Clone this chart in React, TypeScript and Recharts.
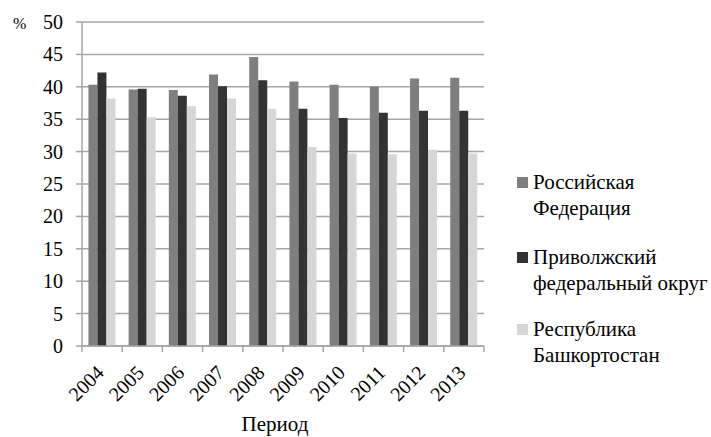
import React from 'react';
import { BarChart, Bar, XAxis, YAxis, CartesianGrid } from 'recharts';

const years = ['2004', '2005', '2006', '2007', '2008', '2009', '2010', '2011', '2012', '2013'];
const russia = [40.3, 39.6, 39.5, 41.9, 44.6, 40.8, 40.3, 40.0, 41.3, 41.4];
const volga = [42.2, 39.7, 38.6, 40.1, 41.0, 36.6, 35.2, 36.0, 36.3, 36.3];
const bashkortostan = [38.2, 35.3, 37.0, 38.2, 36.6, 30.7, 29.7, 29.6, 30.3, 29.7];
const yTicks = [0, 5, 10, 15, 20, 25, 30, 35, 40, 45, 50];

const seriesNames = ['Российская\nФедерация', 'Приволжский\nфедеральный округ', 'Республика\nБашкортостан'];
const seriesColors = ['#7f7f7f', '#333333', '#d6d6d6'];

const data = years.map((year, i) => ({
  year,
  rf: russia[i],
  pfo: volga[i],
  rb: bashkortostan[i],
}));

const FONT = '"Times New Roman", "Liberation Serif", "DejaVu Serif", serif';
const GRID = '#a6a6a6';

const YTick = (props: any) => {
  const { x, y, payload } = props;
  return (
    <text x={x} y={y + 7} textAnchor="end" fontFamily={FONT} fontSize={20} fill="#000">
      {payload.value}
    </text>
  );
};

const XTick = (props: any) => {
  const { x, y, payload, index, visibleTicksCount, width } = props;
  const half =
    typeof payload.offset === 'number' && payload.offset > 0
      ? payload.offset
      : width / visibleTicksCount / 2;
  const px = x + 3;
  const py = y + 28;
  const isLast = index === visibleTicksCount - 1;
  return (
    <g>
      <line x1={x - half} x2={x - half} y1={y} y2={y + 6} stroke={GRID} strokeWidth={1.5} />
      {isLast && <line x1={x + half} x2={x + half} y1={y} y2={y + 6} stroke={GRID} strokeWidth={1.5} />}
      <text
        x={px}
        y={py}
        textAnchor="end"
        fontFamily={FONT}
        fontSize={20}
        fill="#000"
        transform={`rotate(-45 ${px} ${py})`}
      >
        {payload.value}
      </text>
    </g>
  );
};

export default function App() {
  const legendTops = [168.9, 243.9, 315.9];
  return (
    <div style={{ position: 'absolute', left: 0, top: 0, width: 711, height: 437, background: '#fff', overflow: 'hidden' }}>
      <BarChart
        width={711}
        height={437}
        data={data}
        margin={{ top: 22, right: 227, bottom: 31, left: 0 }}
        barCategoryGap="16%"
        barGap={0}
      >
        <CartesianGrid vertical={false} stroke={GRID} strokeWidth={1.5} />
        <XAxis
          dataKey="year"
          height={60}
          axisLine={{ stroke: GRID, strokeWidth: 1.5 }}
          tickLine={false}
          tickSize={0}
          tickMargin={0}
          tick={<XTick />}
          interval={0}
        />
        <YAxis
          domain={[0, 50]}
          ticks={yTicks}
          width={82}
          axisLine={{ stroke: GRID, strokeWidth: 1.5 }}
          tickLine={{ stroke: GRID, strokeWidth: 1.5 }}
          tickSize={6}
          tickMargin={13}
          tick={<YTick />}
          interval={0}
        />
        <Bar dataKey="rf" fill={seriesColors[0]} isAnimationActive={false} />
        <Bar dataKey="pfo" fill={seriesColors[1]} isAnimationActive={false} />
        <Bar dataKey="rb" fill={seriesColors[2]} isAnimationActive={false} />
      </BarChart>
      <div style={{ position: 'absolute', left: 13, top: 14, fontFamily: FONT, fontSize: 16, lineHeight: '20px', color: '#000' }}>%</div>
      <div style={{ position: 'absolute', left: 175, top: 411.5, width: 200, textAlign: 'center', fontFamily: FONT, fontSize: 21, lineHeight: '25px', color: '#000' }}>
        Период
      </div>
      {seriesNames.map((name, i) => (
        <div key={i} style={{ position: 'absolute', left: 517, top: legendTops[i], fontFamily: FONT, fontSize: 21, lineHeight: '26px', color: '#000', whiteSpace: 'pre' }}>
          <span style={{ position: 'absolute', left: 0, top: 8.1, width: 11, height: 11, background: seriesColors[i] }} />
          <div style={{ marginLeft: 16 }}>{name}</div>
        </div>
      ))}
    </div>
  );
}
